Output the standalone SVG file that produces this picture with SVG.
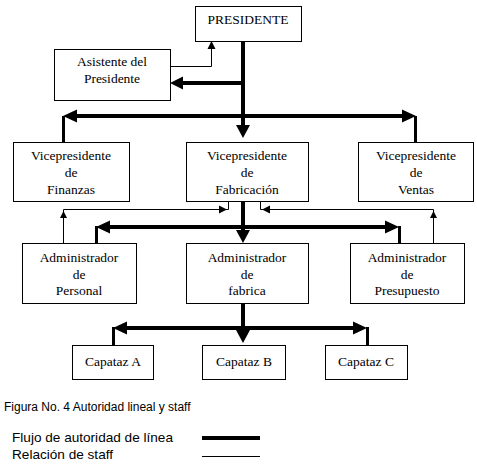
<svg xmlns="http://www.w3.org/2000/svg" width="477" height="469" viewBox="0 0 477 469">
<style>
.box{fill:#fff;stroke:#000;stroke-width:1}
.t{font-family:"Liberation Serif","Times New Roman",serif;font-weight:400;font-size:13.5px;fill:#000;text-anchor:middle}
.s{font-family:"Liberation Sans",Arial,sans-serif;font-weight:400;fill:#000}
.thick{stroke:#000;stroke-width:4;fill:none}
.drop{stroke:#000;stroke-width:3;fill:none}
.thin{stroke:#000;stroke-width:1;fill:none}
.ah{fill:#000}
</style>
<rect width="477" height="469" fill="#fff"/>
<g id="connectors">
  <!-- line authority -->
  <line class="thick" x1="243" y1="41" x2="243" y2="126"/>
  <polygon class="ah" points="236,125 250,125 243,138"/>
  <line class="thick" x1="245" y1="83" x2="182" y2="83"/>
  <polygon class="ah" points="183,76.5 183,89.5 170,83"/>
  <line class="thick" x1="75" y1="116" x2="404" y2="116"/>
  <polygon class="ah" points="77,109.5 77,122.5 63,116"/>
  <polygon class="ah" points="402,109.5 402,122.5 416,116"/>
  <line class="drop" x1="63.5" y1="116" x2="63.5" y2="142"/>
  <line class="drop" x1="415.5" y1="116" x2="415.5" y2="142"/>
  <line class="thick" x1="243" y1="201" x2="243" y2="231"/>
  <polygon class="ah" points="236,230 250,230 243,243"/>
  <line class="thick" x1="108" y1="227" x2="387" y2="227"/>
  <polygon class="ah" points="110,220.5 110,233.5 96,227"/>
  <polygon class="ah" points="385,220.5 385,233.5 399,227"/>
  <line class="drop" x1="96.5" y1="226" x2="96.5" y2="243"/>
  <line class="drop" x1="399.5" y1="226" x2="399.5" y2="243"/>
  <line class="thick" x1="243" y1="303" x2="243" y2="331"/>
  <polygon class="ah" points="236,330 250,330 243,343"/>
  <line class="thick" x1="125" y1="328" x2="355" y2="328"/>
  <polygon class="ah" points="127,321.5 127,334.5 113,328"/>
  <polygon class="ah" points="353,321.5 353,334.5 367,328"/>
  <line class="drop" x1="113.5" y1="327" x2="113.5" y2="345"/>
  <line class="drop" x1="367.5" y1="327" x2="367.5" y2="345"/>
  <!-- staff -->
  <polyline class="thin" points="170,66.5 211.5,66.5 211.5,48"/>
  <polygon class="ah" points="207.5,49 215.5,49 211.5,41"/>
  <polyline class="thin" points="63.5,243 63.5,209.5 228.5,209.5 228.5,201"/>
  <polygon class="ah" points="60,218 67,218 63.5,211"/>
  <polygon class="ah" points="219,205.5 219,213.5 227,209.5"/>
  <polyline class="thin" points="433.5,243 433.5,209.5 260.5,209.5 260.5,201"/>
  <polygon class="ah" points="430,218 437,218 433.5,211"/>
  <polygon class="ah" points="270,205.5 270,213.5 262,209.5"/>
</g>
<g id="presidente">
  <rect class="box" x="195.5" y="6.5" width="106" height="35"/>
  <text class="t" x="248" y="24">PRESIDENTE</text>
</g>
<g id="asistente">
  <rect class="box" x="54.5" y="49.5" width="116" height="51"/>
  <text class="t" x="112" y="66">Asistente del</text>
  <text class="t" x="112" y="83">Presidente</text>
</g>
<g id="vp-finanzas">
  <rect class="box" x="13.5" y="142.5" width="116" height="59"/>
  <text class="t" x="71" y="160">Vicepresidente</text>
  <text class="t" x="71" y="177">de</text>
  <text class="t" x="71" y="194">Finanzas</text>
</g>
<g id="vp-fabricacion">
  <rect class="box" x="186.5" y="142.5" width="122" height="59"/>
  <text class="t" x="247" y="160">Vicepresidente</text>
  <text class="t" x="247" y="177">de</text>
  <text class="t" x="247" y="194">Fabricación</text>
</g>
<g id="vp-ventas">
  <rect class="box" x="358.5" y="142.5" width="115" height="59"/>
  <text class="t" x="416" y="160">Vicepresidente</text>
  <text class="t" x="416" y="177">de</text>
  <text class="t" x="416" y="194">Ventas</text>
</g>
<g id="adm-personal">
  <rect class="box" x="22.5" y="243.5" width="114" height="60"/>
  <text class="t" x="79" y="262">Administrador</text>
  <text class="t" x="79" y="279">de</text>
  <text class="t" x="79" y="295">Personal</text>
</g>
<g id="adm-fabrica">
  <rect class="box" x="186.5" y="243.5" width="122" height="60"/>
  <text class="t" x="247" y="262">Administrador</text>
  <text class="t" x="247" y="279">de</text>
  <text class="t" x="247" y="295">fabrica</text>
</g>
<g id="adm-presupuesto">
  <rect class="box" x="350.5" y="243.5" width="114" height="60"/>
  <text class="t" x="407" y="262">Administrador</text>
  <text class="t" x="407" y="279">de</text>
  <text class="t" x="407" y="295">Presupuesto</text>
</g>
<g id="capataz-a">
  <rect class="box" x="72.5" y="345.5" width="81" height="34"/>
  <text class="t" x="113" y="366">Capataz A</text>
</g>
<g id="capataz-b">
  <rect class="box" x="202.5" y="345.5" width="83" height="34"/>
  <text class="t" x="244" y="366">Capataz B</text>
</g>
<g id="capataz-c">
  <rect class="box" x="325.5" y="345.5" width="82" height="34"/>
  <text class="t" x="366" y="366">Capataz C</text>
</g>
<g id="caption">
  <text class="s" x="4" y="411" font-size="12">Figura No. 4 Autoridad lineal y staff</text>
</g>
<g id="legend">
  <text class="s" x="12" y="442" font-size="13.6">Flujo de autoridad de línea</text>
  <text class="s" x="12" y="459" font-size="13.6">Relación de staff</text>
  <line x1="202" y1="438" x2="260" y2="438" stroke="#000" stroke-width="4"/>
  <line x1="202" y1="456.5" x2="260" y2="456.5" stroke="#000" stroke-width="1"/>
</g>
</svg>
